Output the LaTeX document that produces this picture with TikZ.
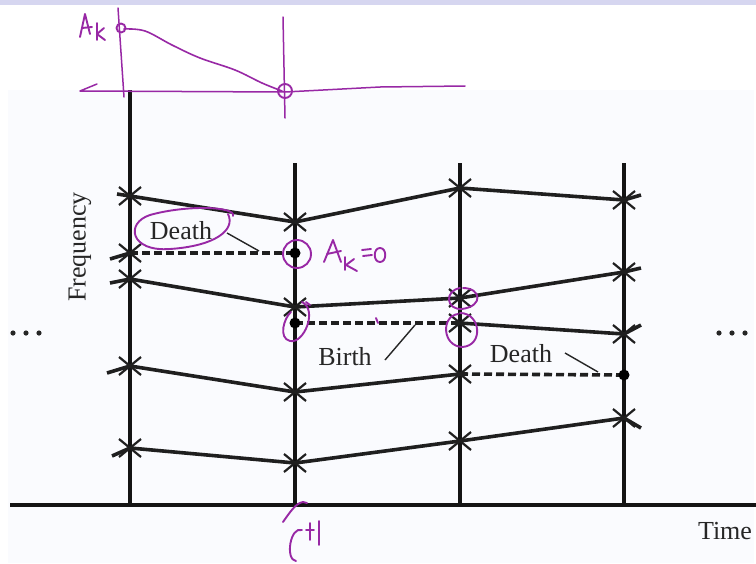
\documentclass[tikz,border=0pt]{standalone}
\usepackage{fontspec}
\setmainfont{Liberation Serif}
\definecolor{inkc}{RGB}{152,40,165}
\definecolor{bandc}{RGB}{214,214,240}
\definecolor{panelc}{RGB}{250,251,254}
\tikzset{
  track/.style={line width=3.6pt, draw=black!88},
  vline/.style={line width=3.2pt, draw=black!92},
  dashtrack/.style={line width=3.6pt, draw=black!88, dash pattern=on 8pt off 4pt},
  leader/.style={line width=1.4pt, draw=black!85},
  ink/.style={draw=inkc, line width=1.9pt, line cap=round, line join=round},
  lbl/.style={font=\fontsize{26}{30}\selectfont, inner sep=0pt, text=black!85},
  xmark/.pic={\draw[line width=2.2pt, black!88] (-11,-9)--(11,9) (-11,9)--(11,-9);},
  dotmark/.pic={\fill[black] (0,0) circle (5.5);},
  ellipsis/.pic={\fill[black!85] (-13,0) circle (2.6) (0,0) circle (2.6) (13,0) circle (2.6);}
}
\begin{document}
\begin{tikzpicture}[x=1pt,y=-1pt]
\useasboundingbox (0,0) rectangle (756,563);
% background
\fill[white] (0,0) rectangle (756,563);
\fill[bandc] (0,0) rectangle (756,5);
\fill[panelc] (8,90) rectangle (754,563);

% coordinates
\coordinate (v1t) at (130,90);  \coordinate (v1b) at (130,505);
\coordinate (v2t) at (295,163); \coordinate (v2b) at (295,505);
\coordinate (v3t) at (460,163); \coordinate (v3b) at (460,505);
\coordinate (v4t) at (624,163); \coordinate (v4b) at (624,505);
\coordinate (bl) at (10,505);   \coordinate (br) at (756,505);

\coordinate (a0) at (117,194); \coordinate (a1) at (130,196); \coordinate (a2) at (295,222);
\coordinate (a3) at (460,188); \coordinate (a4) at (624,200); \coordinate (a5) at (641,195);
\coordinate (b0) at (110,259); \coordinate (b1) at (130,253); \coordinate (b2) at (295,253);
\coordinate (c0) at (110,283); \coordinate (c1) at (130,279); \coordinate (c2) at (295,307);
\coordinate (c3) at (460,298); \coordinate (c4) at (624,272); \coordinate (c5) at (641,268);
\coordinate (d2) at (295,323); \coordinate (d3) at (460,323); \coordinate (d4) at (624,334);
\coordinate (d5) at (641,325);
\coordinate (e0) at (107,373); \coordinate (e1) at (130,366); \coordinate (e2) at (295,392);
\coordinate (e3) at (460,374); \coordinate (e4) at (624,375);
\coordinate (f0) at (112,456); \coordinate (f1) at (130,448); \coordinate (f2) at (295,463);
\coordinate (f3) at (460,441); \coordinate (f4) at (624,418); \coordinate (f5) at (641,428);

% axes
\draw[vline] (v1t) -- (v1b);
\draw[vline] (v2t) -- (v2b);
\draw[vline] (v3t) -- (v3b);
\draw[vline] (v4t) -- (v4b);
\draw[vline] (bl) -- (br);

% tracks
\draw[track] (a0) -- (a1) -- (a2) -- (a3) -- (a4) -- (a5);
\draw[track] (b0) -- (b1);
\draw[dashtrack] (b1) -- (b2);
\draw[track] (c0) -- (c1) -- (c2) -- (c3) -- (c4) -- (c5);
\draw[dashtrack] (d2) -- (d3);
\draw[track] (d3) -- (d4) -- (d5);
\draw[track] (e0) -- (e1) -- (e2) -- (e3);
\draw[dashtrack] (e3) -- (e4);
\draw[track] (f0) -- (f1) -- (f2) -- (f3) -- (f4) -- (f5);

% marks
\foreach \p in {a1,a2,a3,a4,b1,c1,c2,c3,c4,d3,d4,e1,e2,e3,f1,f2,f3,f4}
  \pic at (\p) {xmark};
\foreach \p in {b2,d2,e4}
  \pic at (\p) {dotmark};

% labels
\node[lbl] (death1) at (181,231) {Death};
\node[lbl] (birth) at (345,357) {Birth};
\node[lbl] (death2) at (521,354) {Death};
\node[lbl, rotate=90] (freq) at (80,247) {Frequency};
\node[lbl] (time) at (725,531) {Time};
\coordinate (dotsl) at (26,333);
\coordinate (dotsr) at (732,333);
\pic at (dotsl) {ellipsis};
\pic at (dotsr) {ellipsis};
\coordinate (l1a) at (227,233); \coordinate (l1b) at (259,251);
\coordinate (l2a) at (385,360); \coordinate (l2b) at (415,325);
\coordinate (l3a) at (565,353); \coordinate (l3b) at (598,372);
\draw[leader] (l1a) -- (l1b);
\draw[leader] (l2a) -- (l2b);
\draw[leader] (l3a) -- (l3b);

% ---- handwritten ink ----
% sketch axes
\draw[ink, line width=1.5pt] (118,8) -- (124,97);
\draw[ink, line width=1.5pt] (283,17) -- (285,118);
\draw[ink, line width=1.5pt] (97,84) -- (80,91) -- (285,92) -- (380,87) -- (465,86);
\draw[ink] (121,28) circle (4.5);
\draw[ink] (285,91) circle (7);
\draw[ink, line width=1.6pt] plot[smooth, tension=0.6] coordinates {(124,29) (145,31) (172,45) (200,58) (235,70) (262,83) (282,91)};
% A_k
\draw[ink] (80,37) -- (85,14) -- (90,34);
\draw[ink] (82,28) -- (92,27);
\draw[ink] (97,23) -- (97,40);
\draw[ink] (104,28) -- (97,34) -- (105,40);
% A_k = 0
\draw[ink] (297,254) ellipse (14 and 14);
\draw[ink] (324,262) -- (333,240) -- (341,262);
\draw[ink] (327,254) -- (341,251);
\draw[ink] (345,257) -- (345,270);
\draw[ink] (354,259) -- (346,265) -- (357,271);
\draw[ink] (362,250) -- (371,249);
\draw[ink] (363,256) -- (372,255);
\draw[ink] (380,248) .. controls (373,248) and (373,262) .. (380,262) .. controls (387,262) and (387,248) .. (380,248);
% Death ellipse
\draw[ink] (233,216) .. controls (236,206) and (185,205) .. (150,215)
  .. controls (125,223) and (130,252) .. (170,249)
  .. controls (215,246) and (236,230) .. (228,214);
% birth circles
\draw[ink] (302,302) .. controls (318,310) and (304,344) .. (290,341)
  .. controls (278,338) and (284,318) .. (291,312);
\draw[ink] (306,302) -- (310,305);
\draw[ink] (463,288) .. controls (481,288) and (484,306) .. (462,309)
  .. controls (446,310) and (444,291) .. (460,288);
\draw[ink] (460,313) .. controls (481,313) and (484,346) .. (462,347)
  .. controls (442,346) and (441,316) .. (458,314);
\draw[ink] (376,318) -- (378,323);
% C^{t1}
\draw[ink] (283,522) .. controls (290,512) and (296,503) .. (303,502) -- (307,503);
\draw[ink] (302,530) .. controls (290,526) and (285,560) .. (296,561);
\draw[ink] (310,523) -- (310,540);
\draw[ink] (306,530) -- (314,530);
\draw[ink] (319,521) -- (319,545);
\end{tikzpicture}
\end{document}
